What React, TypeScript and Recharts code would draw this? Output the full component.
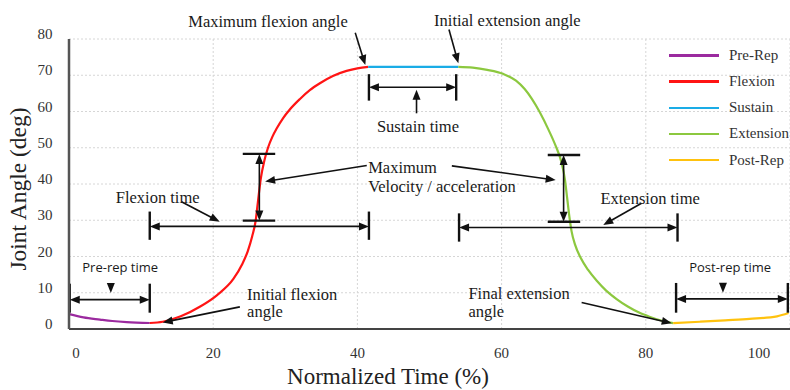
import { LineChart, Line, XAxis, YAxis, CartesianGrid, Legend, ReferenceLine, ReferenceDot } from 'recharts';

const SERIF = '"Liberation Serif", "Times New Roman", serif';
const SANS = '"Open Sans", "Noto Sans", sans-serif';

// joint angle (deg) against normalized time (%) for each phase of the rep
const preRep = [
  { t: 0, angle: 4.1 },
  { t: 2, angle: 3.2 },
  { t: 4.3, angle: 2.6 },
  { t: 6, angle: 2.2 },
  { t: 8, angle: 1.9 },
  { t: 11.2, angle: 1.65 },
];

const flexion = [
  { t: 11.2, angle: 1.65 },
  { t: 13, angle: 2.0 },
  { t: 15.5, angle: 3.5 },
  { t: 18.2, angle: 6.2 },
  { t: 20.5, angle: 9.3 },
  { t: 22.8, angle: 13.8 },
  { t: 24, angle: 17.8 },
  { t: 24.8, angle: 21.5 },
  { t: 25.4, angle: 25.5 },
  { t: 25.9, angle: 30 },
  { t: 26.2, angle: 35 },
  { t: 26.6, angle: 41.5 },
  { t: 27.1, angle: 46.5 },
  { t: 27.6, angle: 50 },
  { t: 28.2, angle: 53 },
  { t: 28.8, angle: 55.3 },
  { t: 29.7, angle: 58.2 },
  { t: 30.6, angle: 60.5 },
  { t: 32, angle: 63.4 },
  { t: 33.4, angle: 65.9 },
  { t: 34.8, angle: 67.8 },
  { t: 36.6, angle: 69.8 },
  { t: 38.5, angle: 71.2 },
  { t: 40, angle: 71.9 },
  { t: 41.5, angle: 72.3 },
];

const sustain = [
  { t: 41.5, angle: 72.3 },
  { t: 54, angle: 72.3 },
];

const extension = [
  { t: 54, angle: 72.3 },
  { t: 56, angle: 72.1 },
  { t: 58, angle: 71.5 },
  { t: 60.2, angle: 70.4 },
  { t: 62, angle: 68.5 },
  { t: 63.2, angle: 66.2 },
  { t: 64.2, angle: 63.5 },
  { t: 65.3, angle: 59.8 },
  { t: 66.5, angle: 55 },
  { t: 67.5, angle: 50.5 },
  { t: 68.3, angle: 46 },
  { t: 68.8, angle: 41 },
  { t: 69.1, angle: 36 },
  { t: 69.4, angle: 31 },
  { t: 69.7, angle: 27 },
  { t: 70.2, angle: 23.2 },
  { t: 71, angle: 19.5 },
  { t: 72, angle: 16.3 },
  { t: 73.2, angle: 13.3 },
  { t: 74.5, angle: 10.6 },
  { t: 76, angle: 8.2 },
  { t: 77.5, angle: 6.2 },
  { t: 79, angle: 4.6 },
  { t: 80.5, angle: 3.4 },
  { t: 82, angle: 2.4 },
  { t: 83.8, angle: 1.6 },
];

const postRep = [
  { t: 83.8, angle: 1.6 },
  { t: 87.5, angle: 2.0 },
  { t: 91, angle: 2.4 },
  { t: 94.4, angle: 2.8 },
  { t: 98.2, angle: 3.5 },
  { t: 99.8, angle: 4.4 },
];

const phases = [
  { name: 'Pre-Rep', color: '#9b2a9f', data: preRep },
  { name: 'Flexion', color: '#ff1414', data: flexion },
  { name: 'Sustain', color: '#1aace6', data: sustain },
  { name: 'Extension', color: '#8cc83f', data: extension },
  { name: 'Post-Rep', color: '#ffc20e', data: postRep },
];
const phaseOrder = phases.map((p) => p.name);

const xTicks = [0, 20, 40, 60, 80, 100];
const yTicks = [0, 10, 20, 30, 40, 50, 60, 70, 80];

// horizontal time spans: double arrow between two end bars
const timeSpans = [
  { from: 0.1, to: 11.2, at: 8.1, low: 4.5, high: 12.5 },
  { from: 11.2, to: 41.6, at: 28.3, low: 24.6, high: 32.4 },
  { from: 41.6, to: 53.7, at: 66.7, low: 63, high: 70.3 },
  { from: 54.1, to: 84.4, at: 28, low: 24.1, high: 31.9 },
  { from: 84.2, to: 99.7, at: 8.3, low: 4.5, high: 12.7 },
];

// vertical velocity markers
const velocityMarks = [
  { at: 26.4, from: 29.9, to: 48.3, left: 24.1, right: 28.6 },
  { at: 68.6, from: 29.6, to: 48, left: 66.4, right: 70.9 },
];

// single-headed pointers [fromT, fromAngle, toT, toAngle]
const pointers = [
  [5.8, 12.2, 5.8, 9.9],
  [90.7, 12.7, 90.7, 10],
  [48.2, 59.5, 48.2, 66],
  [15.6, 35.1, 20.9, 29.6],
  [79.4, 34.7, 74.1, 28.7],
  [39.7, 81.7, 41.1, 72.8],
  [52.7, 82.6, 54, 73.3],
  [41.3, 45.1, 27.2, 40.7],
  [53.1, 45, 67.5, 41.1],
  [23.7, 6.1, 13, 1.8],
  [71.1, 7.3, 83.6, 1.6],
];

const notes = [
  { t: 27.6, angle: 84.7, text: 'Maximum flexion angle', anchor: 'middle' },
  { t: 60.8, angle: 85.2, text: 'Initial extension angle', anchor: 'middle' },
  { t: 48.4, angle: 56, text: 'Sustain time', anchor: 'middle' },
  { t: 41.5, angle: 44.6, text: 'Maximum', anchor: 'start' },
  { t: 41.5, angle: 39.4, text: 'Velocity / acceleration', anchor: 'start' },
  { t: 12.3, angle: 36.3, text: 'Flexion time', anchor: 'middle' },
  { t: 80.6, angle: 35.9, text: 'Extension time', anchor: 'middle' },
  { t: 7.1, angle: 17.2, text: 'Pre-rep time', anchor: 'middle', sans: true },
  { t: 91.7, angle: 17.2, text: 'Post-rep time', anchor: 'middle', sans: true },
  { t: 24.7, angle: 9.6, text: 'Initial flexion', anchor: 'start' },
  { t: 24.7, angle: 4.7, text: 'angle', anchor: 'start' },
  { t: 55.4, angle: 9.9, text: 'Final extension', anchor: 'start' },
  { t: 55.4, angle: 4.8, text: 'angle', anchor: 'start' },
];

const head = (tx: number, ty: number, ux: number, uy: number) => {
  const L = 10;
  const W = 4;
  const bx = tx - ux * L;
  const by = ty - uy * L;
  return `${tx},${ty} ${bx - uy * W},${by + ux * W} ${bx + uy * W},${by - ux * W}`;
};

const arrow = (both: boolean) => (p: any) => {
  const { x1, y1, x2, y2 } = p;
  const len = Math.hypot(x2 - x1, y2 - y1) || 1;
  const ux = (x2 - x1) / len;
  const uy = (y2 - y1) / len;
  const sx = both ? x1 + ux * 8 : x1;
  const sy = both ? y1 + uy * 8 : y1;
  return (
    <g>
      <line x1={sx} y1={sy} x2={x2 - ux * 8} y2={y2 - uy * 8} stroke="#111" strokeWidth={1.6} />
      <polygon points={head(x2, y2, ux, uy)} fill="#111" />
      {both && <polygon points={head(x1, y1, -ux, -uy)} fill="#111" />}
    </g>
  );
};

const bar = (p: any) => <line x1={p.x1} y1={p.y1} x2={p.x2} y2={p.y2} stroke="#111" strokeWidth={2.4} />;

const YTick = (p: any) => (
  <text x={p.x - 14.5} y={p.y - 5} textAnchor="end" dominantBaseline="central" fontFamily={SERIF} fontSize={15} fill="#333">
    {p.payload.value}
  </text>
);

const XTick = (p: any) => {
  const v = p.payload.value;
  const shift = v === 0 ? 7 : v === 100 ? -19 : 0;
  return (
    <text x={p.x + shift} y={p.y + 22} textAnchor="middle" dominantBaseline="central" fontFamily={SERIF} fontSize={15} fill="#333">
      {v}
    </text>
  );
};

const renderLegend = (props: any) => (
  <div>
    {(props.payload || []).map((item: any) => (
      <div key={item.value} style={{ display: 'flex', alignItems: 'center', height: 26.1 }}>
        <span style={{ display: 'inline-block', width: 50, height: 2.5, background: item.color }} />
        <span style={{ marginLeft: 10, fontFamily: SERIF, fontSize: 15, color: '#333' }}>{item.value}</span>
      </div>
    ))}
  </div>
);

const App = () => {
  return (
    <div style={{ position: 'absolute', left: 0, top: 0, width: 790, height: 390 }}>
      <LineChart width={790} height={390} margin={{ top: 39, right: 0, bottom: 0, left: 0 }}>
        <CartesianGrid stroke="#d6d6d6" strokeDasharray="2 2" />
        <XAxis
          type="number"
          dataKey="t"
          domain={[0, 100]}
          ticks={xTicks}
          height={61}
          tickSize={0}
          tickLine={false}
          axisLine={{ stroke: '#444', strokeWidth: 2 }}
          tick={XTick}
          allowDataOverflow
        />
        <YAxis
          type="number"
          domain={[0, 80]}
          ticks={yTicks}
          width={69}
          tickSize={0}
          tickLine={false}
          axisLine={{ stroke: '#555', strokeWidth: 2.5 }}
          tick={YTick}
          allowDataOverflow
        />
        <Legend
          layout="vertical"
          align="center"
          verticalAlign="middle"
          itemSorter={(item: any) => phaseOrder.indexOf(item.value)}
          wrapperStyle={{ left: 669, top: 42.6, width: 'auto' }}
          content={renderLegend}
        />
        {phases.map((ph) => (
          <Line
            key={ph.name}
            name={ph.name}
            data={ph.data}
            dataKey="angle"
            type="monotone"
            stroke={ph.color}
            strokeWidth={2.2}
            dot={false}
            activeDot={false}
            isAnimationActive={false}
          />
        ))}
        {timeSpans.map((s, i) => [
          <ReferenceLine key={`ts${i}`} ifOverflow="visible" segment={[{ x: s.from, y: s.at }, { x: s.to, y: s.at }]} shape={arrow(true)} />,
          <ReferenceLine key={`tl${i}`} ifOverflow="visible" segment={[{ x: s.from, y: s.low }, { x: s.from, y: s.high }]} shape={bar} />,
          <ReferenceLine key={`tr${i}`} ifOverflow="visible" segment={[{ x: s.to, y: s.low }, { x: s.to, y: s.high }]} shape={bar} />,
        ])}
        {velocityMarks.map((v, i) => [
          <ReferenceLine key={`vs${i}`} ifOverflow="visible" segment={[{ x: v.at, y: v.from }, { x: v.at, y: v.to }]} shape={arrow(true)} />,
          <ReferenceLine key={`vb${i}`} ifOverflow="visible" segment={[{ x: v.left, y: v.from }, { x: v.right, y: v.from }]} shape={bar} />,
          <ReferenceLine key={`vt${i}`} ifOverflow="visible" segment={[{ x: v.left, y: v.to }, { x: v.right, y: v.to }]} shape={bar} />,
        ])}
        {pointers.map((p, i) => (
          <ReferenceLine key={`p${i}`} ifOverflow="visible" segment={[{ x: p[0], y: p[1] }, { x: p[2], y: p[3] }]} shape={arrow(false)} />
        ))}
        {notes.map((n, i) => (
          <ReferenceDot
            key={`n${i}`}
            x={n.t}
            y={n.angle}
            r={0}
            ifOverflow="visible"
            shape={(p: any) => (
              <text
                x={p.cx}
                y={p.cy}
                textAnchor={n.anchor}
                dominantBaseline="central"
                fontFamily={n.sans ? SANS : SERIF}
                fontSize={n.sans ? 13 : 16.5}
                fill="#1a1a1a"
              >
                {n.text}
              </text>
            )}
          />
        ))}
      </LineChart>
      <div
        style={{
          position: 'absolute',
          left: 19,
          top: 189,
          transform: 'translate(-50%, -50%) rotate(-90deg)',
          whiteSpace: 'nowrap',
          fontFamily: SERIF,
          fontSize: 23.5,
          color: '#222',
          lineHeight: 1,
        }}
      >
        Joint Angle (deg)
      </div>
      <div
        style={{
          position: 'absolute',
          left: 388,
          top: 376,
          transform: 'translate(-50%, -50%)',
          whiteSpace: 'nowrap',
          fontFamily: SERIF,
          fontSize: 23,
          color: '#222',
          lineHeight: 1,
        }}
      >
        Normalized Time (%)
      </div>
    </div>
  );
};

export default App;
